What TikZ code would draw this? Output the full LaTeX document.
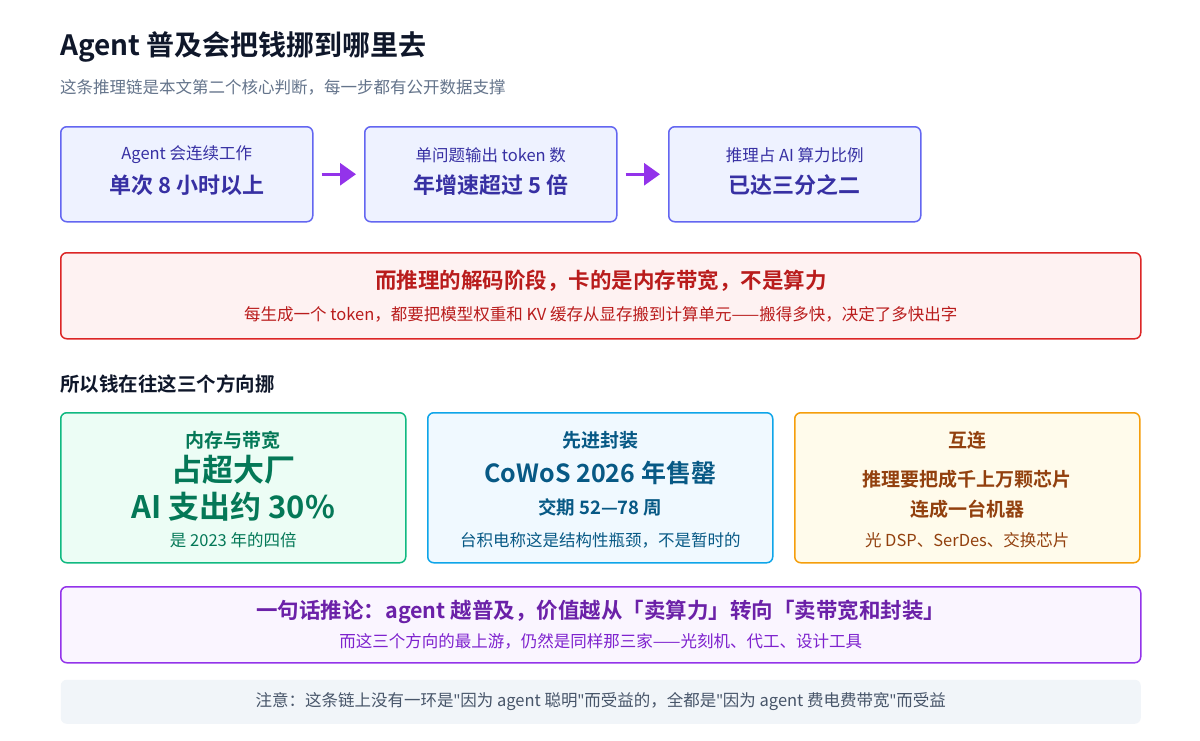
\documentclass[tikz,border=0pt]{standalone}
\usepackage{fontspec}
\setmainfont{Noto Sans CJK SC}[BoldFont={Noto Sans CJK SC Bold}]
\newfontfamily\quotefont{Noto Sans}
\usetikzlibrary{arrows.meta,positioning}
\definecolor{ink}{HTML}{0F172A}
\definecolor{subgray}{HTML}{64748B}
\definecolor{indfill}{HTML}{EEF2FF}
\definecolor{indline}{HTML}{6366F1}
\definecolor{indtext}{HTML}{3730A3}
\definecolor{arrowpurple}{HTML}{9333EA}
\definecolor{redfill}{HTML}{FEF2F2}
\definecolor{redline}{HTML}{DC2626}
\definecolor{redtext}{HTML}{B91C1C}
\definecolor{grnfill}{HTML}{ECFDF5}
\definecolor{grnline}{HTML}{10B981}
\definecolor{grntext}{HTML}{047857}
\definecolor{blufill}{HTML}{F0F9FF}
\definecolor{bluline}{HTML}{0EA5E9}
\definecolor{blutext}{HTML}{075985}
\definecolor{orgfill}{HTML}{FFFBEB}
\definecolor{orgline}{HTML}{F59E0B}
\definecolor{orgtext}{HTML}{92400E}
\definecolor{purfill}{HTML}{FAF5FF}
\definecolor{purtext}{HTML}{6B21A8}
\definecolor{pursub}{HTML}{7E22CE}
\definecolor{notefill}{HTML}{F1F5F9}
\definecolor{notetext}{HTML}{475569}
\newcommand{\sq}{{\quotefont\char34}}
\tikzset{
  card/.style={draw, line width=1.5pt, rounded corners=6pt, anchor=north west, inner sep=0pt},
  chainbox/.style={card, fill=indfill, draw=indline, minimum width=252pt, minimum height=95pt},
  way/.style={card, minimum width=345pt, minimum height=150pt},
  txt/.style={inner sep=0pt, anchor=center},
  small/.style={font=\fontsize{16.5}{19}\selectfont},
}
\begin{document}
\begin{tikzpicture}[x=1pt,y=-1pt]
\useasboundingbox (0,0) rectangle (1200,740);
\fill[white] (0,0) rectangle (1200,740);
% heading
\node[txt, anchor=west, text=ink, font=\bfseries\fontsize{28}{32}\selectfont] (title) at (60,47) {Agent 普及会把钱挪到哪里去};
\node[txt, anchor=west, text=subgray, small] (sub) at (60,87) {这条推理链是本文第二个核心判断，每一步都有公开数据支撑};
% chain
\node[chainbox] (s1) at (60,126) {};
\node[chainbox] (s2) at (364,126) {};
\node[chainbox] (s3) at (668,126) {};
\foreach \n/\a/\b in {s1/Agent 会连续工作/单次 8 小时以上, s2/单问题输出 token 数/年增速超过 5 倍, s3/推理占 AI 算力比例/已达三分之二}{
  \node[txt, text=indtext, small] at ([yshift=-29pt]\n.north) {\a};
  \node[txt, text=indtext, font=\bfseries\fontsize{22}{26}\selectfont] at ([yshift=-59pt]\n.north) {\b};
}
\draw[-{Triangle[length=16pt,width=22pt]}, arrowpurple, line width=3pt, shorten <=8pt, shorten >=8pt] (s1) -- (s2);
\draw[-{Triangle[length=16pt,width=22pt]}, arrowpurple, line width=3pt, shorten <=8pt, shorten >=8pt] (s2) -- (s3);
% bottleneck
\node[card, fill=redfill, draw=redline, minimum width=1080pt, minimum height=86pt] (neck) at (60,252) {};
\node[txt, text=redtext, font=\bfseries\fontsize{21.5}{25}\selectfont] at ([yshift=-29pt]neck.north) {而推理的解码阶段，卡的是内存带宽，不是算力};
\node[txt, text=redtext, small] at ([yshift=-62pt]neck.north) {每生成一个 token，都要把模型权重和 KV 缓存从显存搬到计算单元——搬得多快，决定了多快出字};
% three ways
\node[txt, anchor=west, text=ink, font=\bfseries\fontsize{19.5}{23}\selectfont] (ways) at (60,384) {所以钱在往这三个方向挪};
\node[way, fill=grnfill, draw=grnline] (mem) at (60,412) {};
\node[way, fill=blufill, draw=bluline] (pkg) at (427,412) {};
\node[way, fill=orgfill, draw=orgline] (link) at (794,412) {};
\node[txt, text=grntext, font=\bfseries\fontsize{19}{22}\selectfont] at ([yshift=-28pt]mem.north) {内存与带宽};
\node[txt, text=grntext, font=\bfseries\fontsize{31}{36}\selectfont] at ([yshift=-58pt]mem.north) {占超大厂};
\node[txt, text=grntext, font=\bfseries\fontsize{31}{36}\selectfont] at ([yshift=-95pt]mem.north) {AI 支出约 30\%};
\node[txt, text=grntext, small] at ([yshift=-128pt]mem.north) {是 2023 年的四倍};
\node[txt, text=blutext, font=\bfseries\fontsize{19}{22}\selectfont] at ([yshift=-28pt]pkg.north) {先进封装};
\node[txt, text=blutext, font=\bfseries\fontsize{25}{29}\selectfont] at ([yshift=-61pt]pkg.north) {CoWoS 2026 年售罄};
\node[txt, text=blutext, font=\bfseries\fontsize{18.5}{22}\selectfont] at ([yshift=-95pt]pkg.north) {交期 52—78 周};
\node[txt, text=blutext, small] at ([yshift=-128pt]pkg.north) {台积电称这是结构性瓶颈，不是暂时的};
\node[txt, text=orgtext, font=\bfseries\fontsize{19}{22}\selectfont] at ([yshift=-28pt]link.north) {互连};
\node[txt, text=orgtext, font=\bfseries\fontsize{19}{22}\selectfont] at ([yshift=-67pt]link.north) {推理要把成千上万颗芯片};
\node[txt, text=orgtext, font=\bfseries\fontsize{19}{22}\selectfont] at ([yshift=-97pt]link.north) {连成一台机器};
\node[txt, text=orgtext, small] at ([yshift=-128pt]link.north) {光 DSP、SerDes、交换芯片};
% conclusion
\node[card, fill=purfill, draw=arrowpurple, minimum width=1080pt, minimum height=76pt] (end) at (60,586) {};
\node[txt, text=purtext, font=\bfseries\fontsize{21.5}{25}\selectfont] at ([yshift=-26pt]end.north) {一句话推论：agent 越普及，价值越从「卖算力」转向「卖带宽和封装」};
\node[txt, text=pursub, small] at ([yshift=-55pt]end.north) {而这三个方向的最上游，仍然是同样那三家——光刻机、代工、设计工具};
% note
\node[card, draw=none, fill=notefill, minimum width=1080pt, minimum height=44pt] (note) at (60,679) {};
\node[txt, text=notetext, small] at (note.center) {注意：这条链上没有一环是\sq 因为 agent 聪明\sq 而受益的，全都是\sq 因为 agent 费电费带宽\sq 而受益};
\end{tikzpicture}
\end{document}
